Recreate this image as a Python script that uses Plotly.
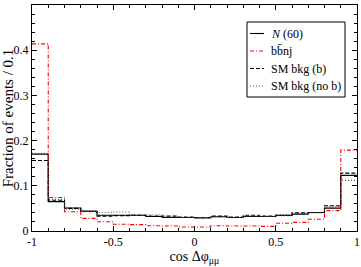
import plotly.graph_objects as go

bin_edges = [-1.0, -0.9, -0.8, -0.7, -0.6, -0.5, -0.4, -0.3, -0.2, -0.1, 0.0,
             0.1, 0.2, 0.3, 0.4, 0.5, 0.6, 0.7, 0.8, 0.9, 1.0]

n60 = [0.170, 0.065, 0.051, 0.044, 0.035, 0.035, 0.035, 0.032, 0.030, 0.030,
       0.029, 0.0316, 0.030, 0.032, 0.032, 0.0345, 0.0374, 0.041, 0.0507, 0.123]
bbnj = [0.414, 0.074, 0.0425, 0.028, 0.0205, 0.015, 0.014, 0.0117, 0.011, 0.009,
        0.009, 0.0117, 0.011, 0.011, 0.0103, 0.017, 0.019, 0.026, 0.045, 0.179]
sm_b = [0.156, 0.068, 0.050, 0.043, 0.033, 0.034, 0.035, 0.033, 0.033, 0.031,
        0.030, 0.033, 0.031, 0.035, 0.033, 0.035, 0.040, 0.041, 0.056, 0.128]
sm_nob = [0.172, 0.070, 0.048, 0.043, 0.041, 0.042, 0.036, 0.036, 0.031, 0.030,
          0.030, 0.031, 0.030, 0.033, 0.032, 0.034, 0.038, 0.040, 0.054, 0.112]

series_names = ["<i>N</i> (60)", "bb\u0304nj", "SM bkg (b)", "SM bkg (no b)"]
series_vals = [n60, bbnj, sm_b, sm_nob]
series_colors = ["black", "red", "black", "#555555"]
series_dash = ["solid", "4px,2px,1px,2px", "4px,2px", "1px,2px"]

FONT = "Liberation Serif, Times New Roman, serif"

# plot-area geometry in pixels (for placing the legend box in paper coords)
L, R, T, B = 32, 357, 5, 231
def px(x):
    return (x - L) / (R - L)
def py(y):
    return (B - y) / (B - T)

fig = go.Figure()
for name, vals, color, dash in zip(series_names, series_vals, series_colors, series_dash):
    fig.add_trace(go.Scatter(
        x=bin_edges,
        y=list(vals) + [vals[-1]],
        mode="lines",
        line=dict(shape="hv", color=color, dash=dash, width=1.1),
        name=name,
        showlegend=False,
    ))

# custom legend box
shapes = [dict(type="rect", xref="paper", yref="paper",
               x0=px(247), x1=px(345), y0=py(97), y1=py(22),
               line=dict(color="black", width=1), fillcolor="white", layer="above")]
annotations = []
row_y = [33.5, 51, 68.5, 86]
for name, color, dash, ry in zip(series_names, series_colors, series_dash, row_y):
    shapes.append(dict(type="line", xref="paper", yref="paper",
                       x0=px(250), x1=px(264), y0=py(ry), y1=py(ry),
                       line=dict(color=color, dash=dash, width=1.1), layer="above"))
    annotations.append(dict(xref="paper", yref="paper", x=px(269), y=py(ry),
                            xanchor="left", yanchor="middle", text=name, showarrow=False,
                            font=dict(family=FONT, size=12, color="black")))

axis_common = dict(
    showline=True, linecolor="black", linewidth=1, mirror="allticks",
    ticks="inside", ticklen=5, tickcolor="black", showgrid=False, zeroline=False,
    tickfont=dict(family=FONT, size=12, color="black"),
)

fig.update_layout(
    width=361, height=267,
    margin=dict(l=32, r=4, t=5, b=36, autoexpand=False),
    paper_bgcolor="white", plot_bgcolor="white",
    font=dict(family=FONT, color="black"),
    xaxis=dict(range=[-1, 1], tickvals=[-1, -0.5, 0, 0.5, 1],
               ticktext=["-1", "-0.5", "0", "0.5", "1"],
               minor=dict(ticks="inside", dtick=0.1, tick0=0, ticklen=3, tickcolor="black"),
               title=dict(text="cos \u0394\u03c6<sub>\u03bc\u03bc</sub>",
                          font=dict(family=FONT, size=14), standoff=2),
               automargin=False,
               **axis_common),
    yaxis=dict(range=[0, 0.5], tickvals=[0, 0.1, 0.2, 0.3, 0.4, 0.5],
               ticktext=["0", "0.1", "0.2", "0.3", "0.4", "0.5"],
               minor=dict(ticks="inside", dtick=0.02, tick0=0, ticklen=3, tickcolor="black"),
               title=dict(text="Fraction of events / 0.1",
                          font=dict(family=FONT, size=15), standoff=2),
               automargin=False,
               **axis_common),
    shapes=shapes,
    annotations=annotations,
    showlegend=False,
)

fig.write_html("out.html", config={"displayModeBar": False},
               post_script="document.body.style.margin='0px';")
